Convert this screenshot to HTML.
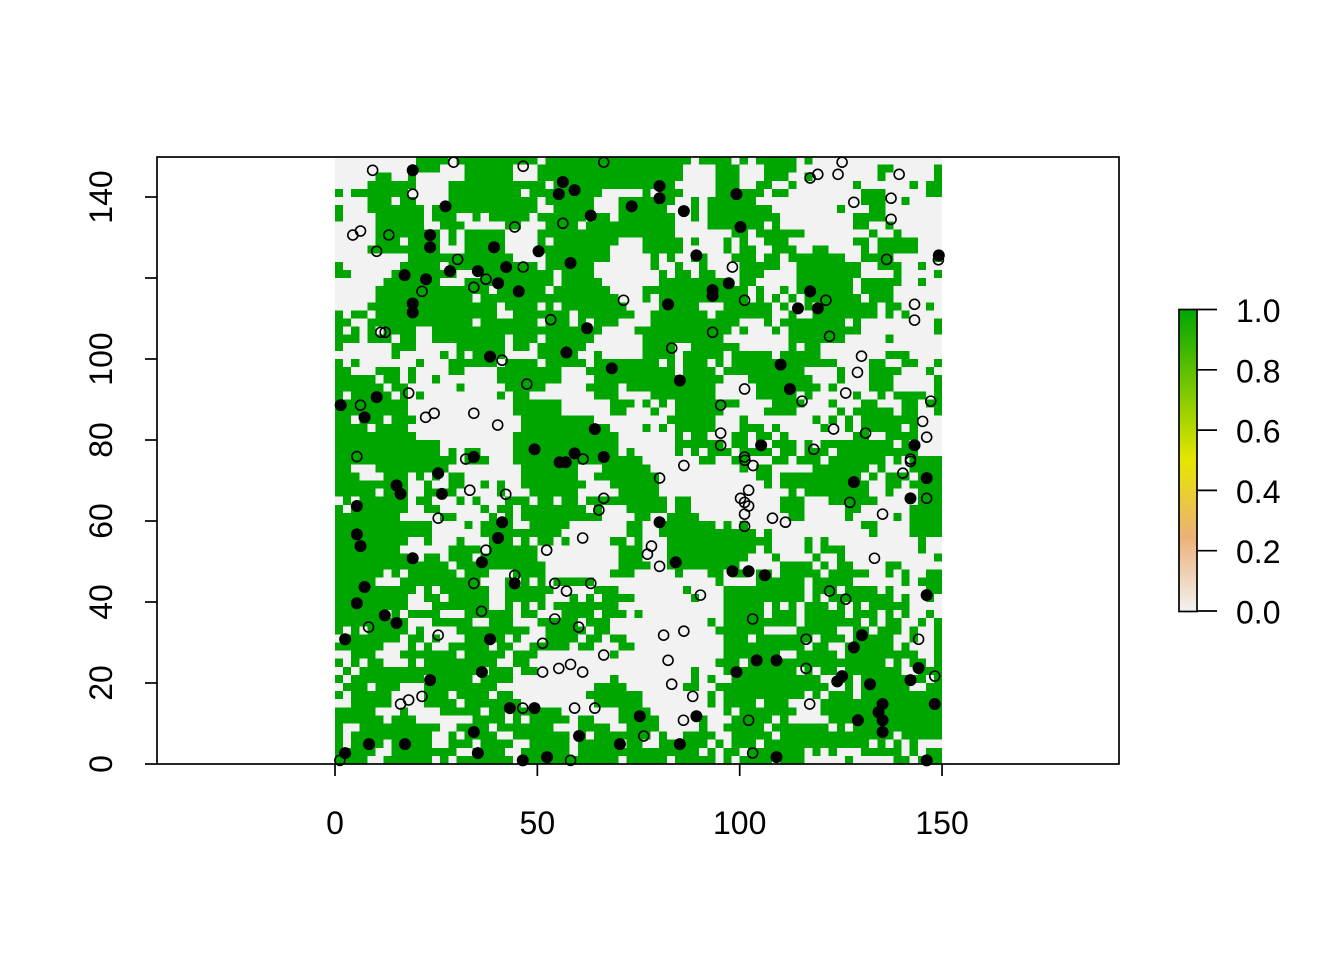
<!DOCTYPE html>
<html lang="en">
<head>
<meta charset="utf-8">
<title>Raster with points</title>
<style>
html,body{margin:0;padding:0;background:#fff;}
svg{display:block;}
text{font-family:"Liberation Sans",Arial,sans-serif;font-size:32px;fill:#000;}
</style>
</head>
<body>
<svg id="chart" xmlns="http://www.w3.org/2000/svg" width="1344" height="960" viewBox="0 0 1344 960">
<defs>
<linearGradient id="terrain" x1="0" y1="1" x2="0" y2="0">
<stop offset="0" stop-color="#F2F2F2"/>
<stop offset="0.25" stop-color="#EBB176"/>
<stop offset="0.5" stop-color="#E6E600"/>
<stop offset="1" stop-color="#00A600"/>
</linearGradient>
</defs>
<rect x="0" y="0" width="1344" height="960" fill="#fff"/>
<g id="raster" shape-rendering="crispEdges"></g>
<g id="points-open"></g>
<g id="points-filled"></g>
<rect x="157" y="157" width="962" height="607" fill="none" stroke="#000" stroke-width="1.7"/>
<g id="x-axis"></g>
<g id="y-axis"></g>
<g id="legend">
<rect x="1179" y="309.5" width="18" height="302" fill="url(#terrain)" stroke="#000" stroke-width="1.7"/>
</g>
</svg>
<script>
const cellSize = 2;
const leftRows = [
"..........####.##########.############",
"..........###...######...#############",
".....##..#......######...#############",
"....######....############.###########",
"#.#######.....#########.#########.....",
"....###.##....###########.######...###",
"#...#######.#############..#####...###",
"#....######.###..#.#####.######.##.###",
".....######..###.....##...####.#######",
".....########.#.#####....#############",
".....###.####.#.#####....#.########...",
"....#########...#####....#########....",
".........#############....########....",
"#.......#####.###########.######......",
"##.....########...#########.####......",
"......#######...###########.#####.....",
".....##############.######.#######....",
".....############.#################...",
"....################.####.#.########..",
"#.##.###############..#######.#######.",
"##..#############.#######.###.#.###...",
"#.#.#.####..#####################....#",
"###.###.##..#########.###.######......",
"#......###.....######.##.######.......",
".......#.....#.#.####....#####..#.....",
"#.#.......#...######.####.#####.######",
"##...###.#....##....########...#######",
"#####.##.#..#.......########....######",
"######.##......#.....#####.....####.##",
"#.#####.#.#.........#.##........###...",
"#########.............######......###.",
"#########.............######......##..",
"##.###.###.............#########......",
"####.####..............###########....",
"##########............#############...",
"#############.........#############...",
"#############.#.##....#############.#.",
"###############.###...################",
"##...#########.........#######...#####",
"###...###.#.#.##.......#######..######",
"#########..#..##..#.#..########...####",
"#####.###..####.....#...######.....###",
".#.######.##...#.#...###.##.##.#######",
"#.#######..##.....#.##.########.#...##",
"########.....##....#.#.##########....##",
"############....#.####..#####.......##",
"############......##########........##",
"#########..#...#...###.#.##.#.....##.#",
"########......####.######..........###",
"#########..##.###.#######..........###",
"##############.###########.........###",
"######.#.######.###...####........###.",
"#####...##########...#.#.#.#####.......",
"##########.#.######..######.....###...",
"#########..##.#####..#####...#.#.####.",
"#########...#######..#.#.#.########...",
"######.#.####...######.##...####.###.#",
"#########...#####..###...#####.###....",
"#.#.#####.#....#########..#####.##....",
".#######.##.#...#####.#...####.##.##..",
"######...#.#..#####.##..#####.##...##.",
"..###...#######.#####.###.........#...",
"#.#.##...#.#########..##..............",
".#.###############.###.##.............",
"#.#########.#####.####............#...",
".###.###...#########............####..",
"#.#####....###.####.##.........#######",
"..#####....####.#######.........######",
"#####...#....#####.##.######.......###",
"######.###.......####.#.#####.##...###",
"#..##########..####.#######...####..##",
"#.##########..#.####..#######.#.######",
"#.####.#####..###.####..#####.#####.##",
"#####..########..####..######.########",
"####..######.#.#######.############.##"
];
const rightRows = [
"######.####.#.#####.#................",
"#####....###...####..........##.....#",
"#####....###...###..#........#......#",
"####.....###..##..#.......#......#.##",
"#.###....######.##.........###.....##",
"####..#.######.............###..#....",
"###...#.########........#...##.......",
"####..#.#########.........####.......",
"####....#######.#.........##..#......",
"####.......##.######........#..#.....",
"#####.#...#.#..###........##.#####...",
"#####.....#.##..###..##....#.#####...",
".#.#..##...###.##.#######..####.....#",
".#..#..#....#####..########..###..#..",
"..#.##.##...###....########....#....#",
"..#########.##.....#######.#####..#..",
"#############.#..#.#######.####......",
"#.###########.#.#.#.#######.###......",
"..#####...######.#..#.#######.##...#.",
".#######.#######..#..########.#.#....",
".###########...#.########.#.........#",
"###########.#...#.#########.........#",
"##########........#######.....#......",
"####..######......#.##...............",
"####.#####.#####.#####........###....",
"##.#.###.#.#############....##..##..#",
"####.####.##########....#...####...#.",
"##########...########...#...###.....#",
"#########.....########.#....###.....#",
".########.....#####.#.....#..#.####.#",
"#.#.########....####...#...##...##.##",
".#..######.....####.....#.#####.##..#",
"...######...#........#.#.#.#######...",
"#.#.#####...###.#.....#..#.#####.#...",
"....#.##...##.##.#........##..####...",
"....######.##.#.###.#.#########.#....",
"....#.#.###.####.##.###.##########...",
".......##..##...##.###.#######.#.####",
"#...........#.##.....#######.#...####",
"##............##.##########.#.###.###",
"##.............#.###########..##.####",
"##................#.########..#...###",
"###.##...........###...######.....###",
"###.##...........###.....##......####",
"#..####...........##.....#.....#.####",
"..#######.#.#..............##....####",
"..############.#............#....####",
"...#############....#.#...........#..",
"...###########.#....#.###.........#..",
"...##########...#....#..#...........#",
"#..#########.....####.#.##....##.....",
"....#...##.##.##.#####.#####..#.#..##",
".........#....######.#####......#.###",
".....#....##########.###.####.#....##",
"......#...##########.#.########.#..#.",
"..........#####.#.#.###.#.#.#####......",
"..........#####.###.#####.###.#.#..#.",
"........#.#########.#######.#.##..#.#",
".........######....#####..##.###.#..#",
"..........###.#######.###.#####..#..#",
"..........##########.##..######.#...#",
"..........#######..#####.#########..#",
".........###.#################.#.##.#",
"......#...#########.#.##.#######..###",
"......#.#..###########..##.########.#.",
".....##..##############..#.######..##",
"........#.##########.#.###.##########",
"........#.####.###....###############",
"#.........#.#######...###############",
"##.....#...#####.#.....##############",
"##.....#..#####.#######.#.###########",
"#.#..####..#####.##############.#####",
"..######.#.###.#############.#.#.#...",
"#######.#.##.#######.#.#...#####.#.##",
"###.#####.#.####.###.....#.....##.###"
];
const filledX = [19.2,56.3,59.2,55.3,27.3,73.3,63.2,23.5,23.5,39.3,50.3,58.2,42.3,28.4,35.3,17.2,22.5,40.3,45.4,19.2,19.2,62.3,57.2,38.3,68.4,10.3,1.4,7.3,64.2,49.3,59.2,55.5,57,66.4,34.3,80.2,80.2,99.2,86.2,100.2,89.3,93.3,93.3,97.3,82.3,117.4,114.4,119.3,149.2,110.1,85.2,112.4,105.3,143.2,25.5,15.2,16.2,26.4,5.4,41.3,5.4,40.3,6.3,19.2,36.3,44.4,7.3,5.4,12.3,15.2,2.5,38.3,36.3,23.5,43.2,49.3,75.3,34.3,60.3,8.4,17.3,70.4,2.5,35.3,52.4,46.4,128.2,146.2,142.2,80.2,84.2,98.2,102.2,106.2,146.2,130.2,128.2,104.2,109.1,99.2,144.2,142.2,125.3,124.1,132.2,148.2,135.3,134.3,135.3,129.2,135.3,89.3,85.2,109.1,146.2];
const filledY = [146.6,143.7,141.7,140.7,137.7,137.7,135.4,130.6,127.6,127.6,126.6,123.7,122.7,121.7,121.7,120.7,119.7,118.7,116.7,113.7,111.5,107.6,101.6,100.6,97.7,90.6,88.6,85.6,82.7,77.7,76.7,74.5,74.5,75.8,75.8,142.7,139.7,140.7,136.5,132.6,125.6,117,115.6,118.7,113.5,116.7,112.5,112.5,125.6,98.6,94.7,92.6,78.7,78.7,71.8,68.8,66.7,66.7,63.7,59.7,56.7,55.8,53.8,50.8,49.8,44.6,43.7,39.7,36.7,34.8,30.8,30.8,22.7,20.7,13.8,13.8,11.8,7.9,6.9,4.9,4.9,4.9,2.7,2.7,1.7,0.9,69.6,70.6,65.6,59.7,49.8,47.6,47.6,46.6,41.7,31.8,28.8,25.6,25.6,22.7,23.7,20.7,21.7,20.4,19.7,14.8,14.8,12.8,10.8,10.8,7.9,11.8,4.9,1.7,0.9];
const openX = [9.3,29.3,46.5,66.4,19.2,44.4,56.3,6.3,4.4,13.3,10.3,30.3,46.5,37.3,34.3,21.5,71.3,53.3,11.3,12.4,41.3,47.4,18.2,6.3,24.5,22.4,34.3,40.2,5.4,32.3,61.3,125.3,117.4,119.3,124.3,139.4,128.2,137.4,137.4,136.3,149.1,98.2,101.2,121.3,143.2,143.2,93.3,122.2,83.2,130.1,129.1,101.2,126.2,115.4,147.2,95.3,145.2,95.3,123.2,131.1,146.2,95.3,118.3,101.2,142.2,33.3,42.2,66.4,65.2,25.5,61.2,52.3,37.3,44.4,54.3,63.2,34.3,57.2,36.2,54.3,60.2,8.3,25.5,51.3,66.4,58.2,55.3,51.3,61.2,64.2,59.2,46.4,21.5,18.2,16.2,58.2,1.2,86.2,103.3,101.3,80.2,102.2,100.2,101.2,102.2,101.2,101.2,108.1,111.3,140.3,142.2,146.2,135.3,127.2,78.2,77.2,80.2,133.3,90.3,122.2,126.2,103.2,81.2,86.2,144.2,116.4,82.3,116.4,148.2,83.2,88.4,117.3,86.1,102.2,76.3,103.2];
const openY = [146.6,148.6,147.6,148.6,140.7,132.6,133.5,131.6,130.6,130.6,126.6,124.6,122.7,119.7,117.7,116.7,114.5,109.7,106.6,106.6,99.7,93.8,91.6,88.6,86.6,85.6,86.6,83.7,75.9,75.3,75.3,148.6,144.7,145.6,145.6,145.6,138.7,139.7,134.5,124.6,124.5,122.7,114.5,114.5,113.5,109.6,106.6,105.6,102.7,100.7,96.7,92.6,91.6,89.6,89.6,88.6,84.6,81.7,82.7,81.7,80.7,78.7,77.7,75.8,75.3,67.6,66.6,65.6,62.7,60.7,55.8,52.8,52.8,46.6,44.6,44.6,44.6,42.7,37.7,35.8,33.8,33.8,31.8,29.8,26.9,24.6,23.6,22.7,22.7,13.8,13.8,13.8,16.7,15.8,14.8,0.9,0.9,73.7,73.7,75,70.6,67.6,65.6,64.6,63.7,61.7,58.7,60.7,59.7,71.8,74.7,65.6,61.7,64.6,53.8,51.8,48.8,50.8,41.7,42.7,40.7,35.8,31.8,32.8,30.8,30.8,25.6,23.6,21.7,19.7,16.7,14.8,10.8,10.8,6.9,2.7];
const xTicks = [0,50,100,150];
const yTicks = [0,20,40,60,80,100,120,140];
const yTickLabels = ["0","20","40","60","80","100","","140"];
const legendTicks = [0,0.2,0.4,0.6,0.8,1];
const legendLabels = ["0.0","0.2","0.4","0.6","0.8","1.0"];

const NS = "http://www.w3.org/2000/svg";
function xScale(v){ return 335 + v * 4.047; }
function yScale(v){ return 764 - v * 4.05; }
function legendScale(v){ return 611 - v * 301.5; }
function cellColor(ch){ return ch === '#' ? '#00A600' : '#F2F2F2'; }
function make(tag, attrs){
  const el = document.createElementNS(NS, tag);
  for (const k in attrs) el.setAttribute(k, attrs[k]);
  return el;
}

const rasterGroup = document.getElementById('raster');
const rowCount = leftRows.length;
for (let r = 0; r < rowCount; r++) {
  const row = (leftRows[r] + '.'.repeat(38)).slice(0, 38) + (rightRows[r] + '.'.repeat(37)).slice(0, 37);
  for (let c = 0; c < row.length; c++) {
    const x0 = xScale(c * cellSize);
    const x1 = xScale((c + 1) * cellSize);
    const yTop = yScale(150 - r * cellSize);
    const yBottom = yScale(150 - (r + 1) * cellSize);
    const cell = make('rect', {x: x0, y: yTop, width: x1 - x0, height: yBottom - yTop, fill: cellColor(row[c])});
    
    
    rasterGroup.appendChild(cell);
  }
}

const openGroup = document.getElementById('points-open');
for (let i = 0; i < openX.length; i++) {
  const p = make('circle', {cx: xScale(openX[i]), cy: yScale(openY[i]), r: 5, fill: 'none', stroke: '#000', 'stroke-width': 1.6});
  
  
  openGroup.appendChild(p);
}

const filledGroup = document.getElementById('points-filled');
for (let i = 0; i < filledX.length; i++) {
  const p = make('circle', {cx: xScale(filledX[i]), cy: yScale(filledY[i]), r: 6, fill: '#000'});
  
  
  filledGroup.appendChild(p);
}

const xAxisGroup = document.getElementById('x-axis');
xTicks.forEach(function(v){
  const tick = make('line', {x1: xScale(v), x2: xScale(v), y1: 764, y2: 776, stroke: '#000', 'stroke-width': 1.7});
  
  
  xAxisGroup.appendChild(tick);
  const label = make('text', {x: xScale(v), y: 834, 'text-anchor': 'middle'});
  
  
  label.textContent = String(v);
  xAxisGroup.appendChild(label);
});

const yAxisGroup = document.getElementById('y-axis');
yTicks.forEach(function(v, i){
  const tick = make('line', {x1: 145, x2: 157, y1: yScale(v), y2: yScale(v), stroke: '#000', 'stroke-width': 1.7});
  
  
  yAxisGroup.appendChild(tick);
  if (yTickLabels[i]) {
    const label = make('text', {x: 0, y: 0, 'text-anchor': 'middle', transform: 'translate(112 ' + yScale(v) + ') rotate(-90)'});
    
    
    label.textContent = yTickLabels[i];
    yAxisGroup.appendChild(label);
  }
});

const legendGroup = document.getElementById('legend');
legendTicks.forEach(function(v, i){
  const tick = make('line', {x1: 1197, x2: 1217, y1: legendScale(v), y2: legendScale(v), stroke: '#000', 'stroke-width': 1.7});
  
  
  legendGroup.appendChild(tick);
  const label = make('text', {x: 1236, y: legendScale(v) + 12.5});
  
  
  label.textContent = legendLabels[i];
  legendGroup.appendChild(label);
});
</script>
</body>
</html>
